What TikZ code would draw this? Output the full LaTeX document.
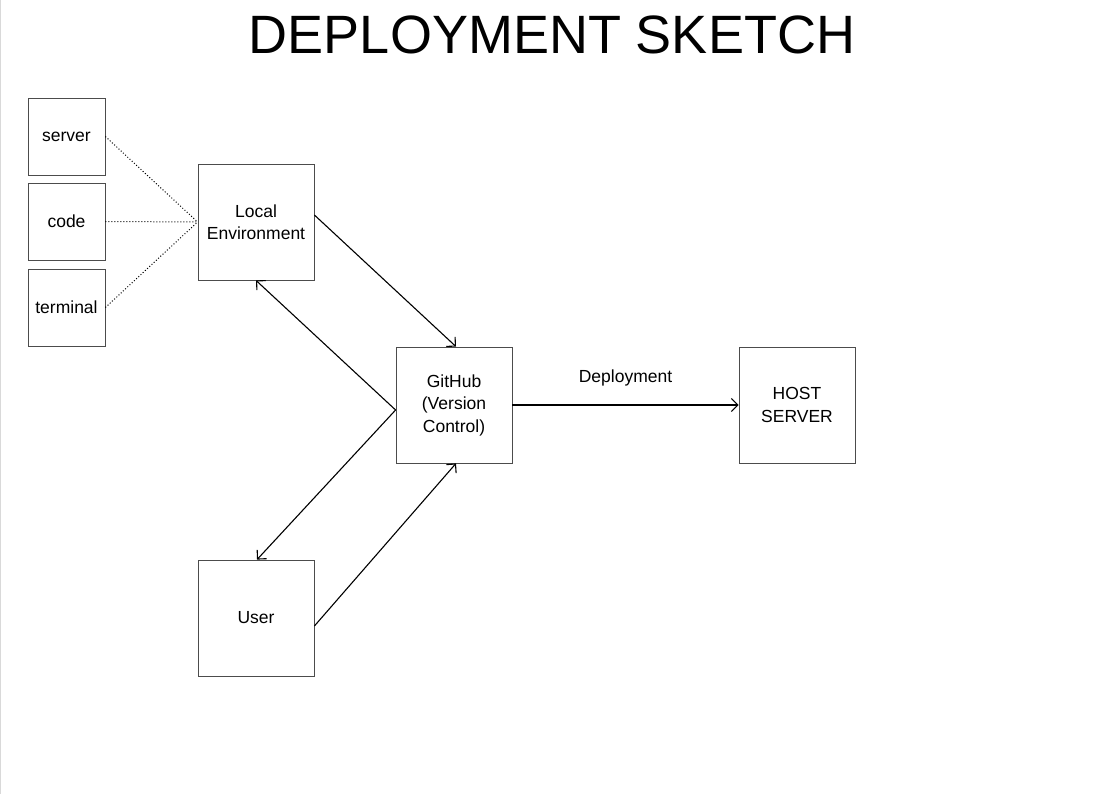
\documentclass[tikz,border=0pt]{standalone}
\usepackage{fontspec}
\setmainfont{Liberation Sans}
\usetikzlibrary{arrows.meta}
\begin{document}
\begin{tikzpicture}[x=1pt,y=-1pt,
  box/.style={draw=black!70, line width=0.8pt, minimum width=#1, minimum height=#1, inner sep=0pt, align=center, font=\fontsize{17.5}{22.5}\selectfont},
  box/.default=116pt,
  dots/.style={dotted, line width=1pt},
  arr/.style={line width=1.1pt, -{Straight Barb[length=6.5pt,width=13pt]}},
  lbl/.style={font=\fontsize{17.5}{22.5}\selectfont}]
\useasboundingbox (0,0) rectangle (1118,794);
\fill[white] (0,0) rectangle (1118,794);
\draw[black!15, line width=1pt] (0.5,0) -- (0.5,794);
\node[font=\fontsize{54}{60}\selectfont] (title) at (552,35) {DEPLOYMENT SKETCH};
\node[box=77pt] (server) at (66.5,136.5) {server};
\node[box=77pt] (code) at (66.5,221.5) {code};
\node[box=77pt] (terminal) at (66.5,307.5) {terminal};
\node[box] (local) at (256,222) {Local\\Environment};
\node[box] (github) at (454,405) {GitHub\\(Version\\Control)};
\node[box] (host) at (797,405) {HOST\\SERVER};
\node[box] (user) at (256,618) {User};
\draw[dots] (server.east) -- (local.west);
\draw[dots] (code.east) -- (local.west);
\draw[dots] (terminal.east) -- (local.west);
\draw[arr] ([yshift=7pt]local.east) -- ([xshift=2pt]github.north);
\draw[arr] ([yshift=-5pt]github.west) -- (local.south);
\draw[arr] ([yshift=-5pt]github.west) -- ([xshift=1pt]user.north);
\draw[arr] ([yshift=-8pt]user.east) -- ([xshift=2pt]github.south);
\draw[arr] (github.east) -- node[lbl, above=18pt, inner sep=0pt] (dep) {Deployment} (host.west);
\end{tikzpicture}
\end{document}
